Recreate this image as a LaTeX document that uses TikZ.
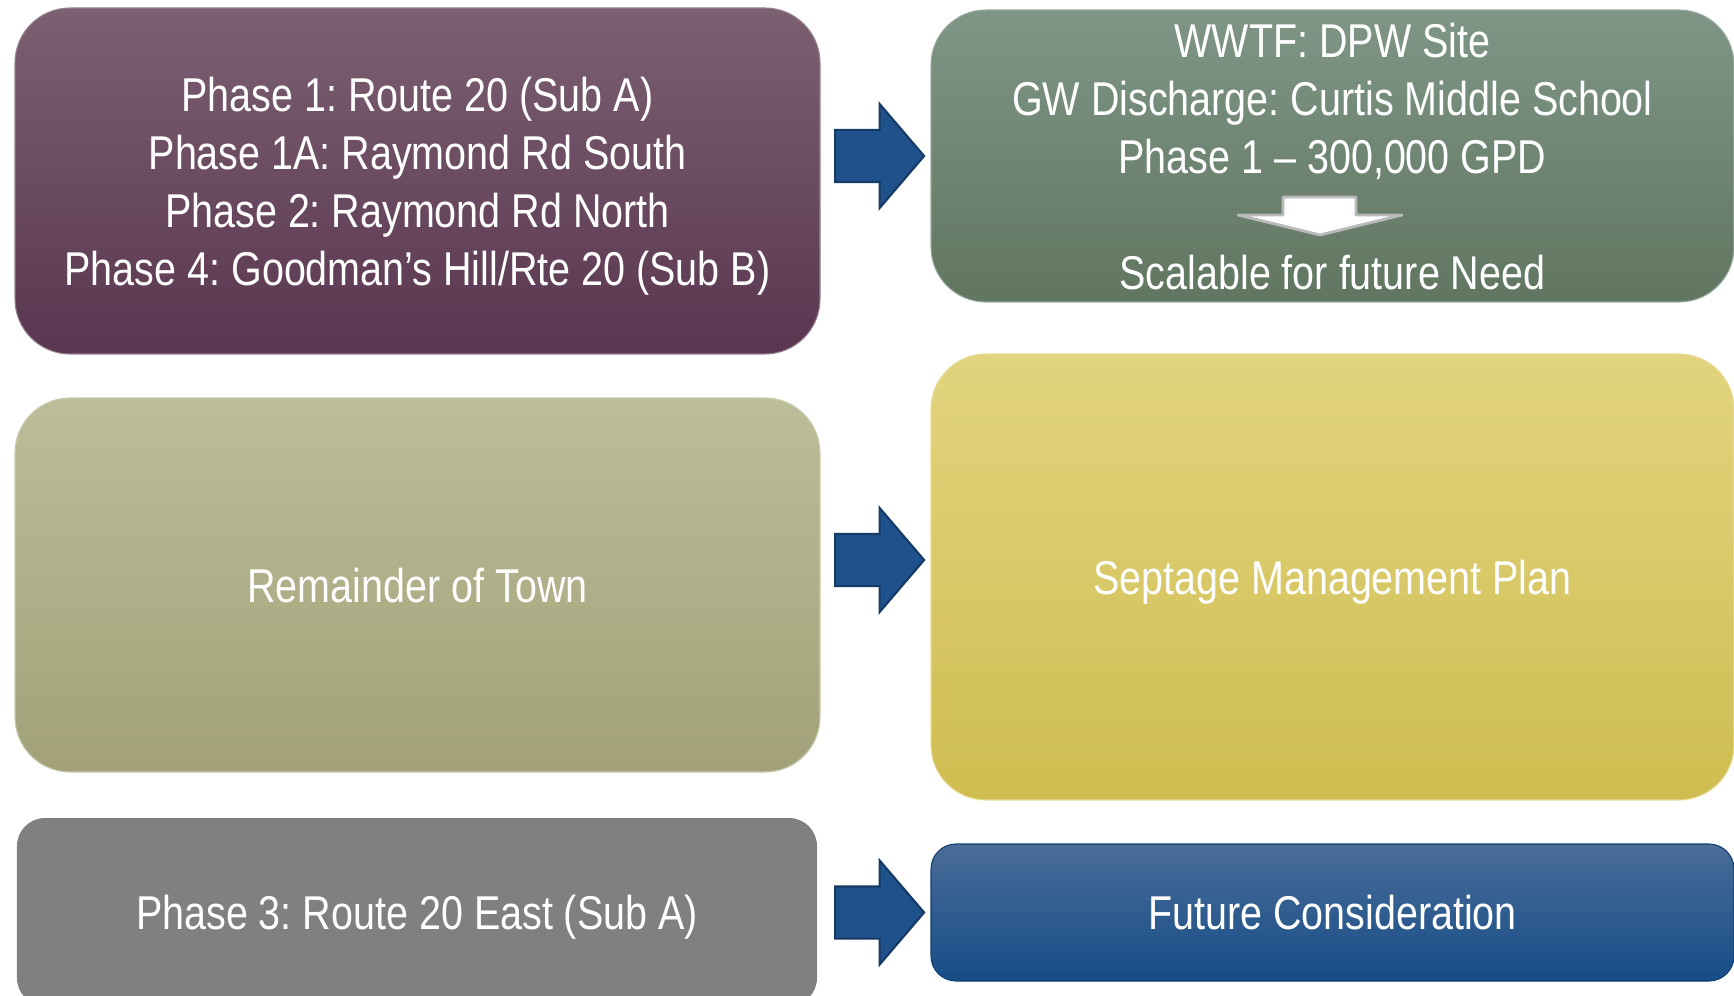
\documentclass[tikz,border=0pt]{standalone}
\usepackage{fontspec}
\setmainfont{Liberation Sans}[FakeStretch=0.832]
\usepackage{xcolor}
\usepackage{tikz}
\usetikzlibrary{shapes.arrows,positioning,calc}
\frenchspacing
\definecolor{plumtop}{RGB}{123,96,113}
\definecolor{plumbot}{RGB}{90,54,80}
\definecolor{sagetop}{RGB}{127,150,135}
\definecolor{sagebot}{RGB}{96,118,96}
\definecolor{olivetop}{RGB}{188,190,153}
\definecolor{olivebot}{RGB}{162,161,121}
\definecolor{mustardtop}{RGB}{226,212,127}
\definecolor{mustardbot}{RGB}{207,189,80}
\definecolor{slategray}{RGB}{128,128,128}
\definecolor{navytop}{RGB}{74,108,152}
\definecolor{navybot}{RGB}{22,77,135}
\definecolor{arrowblue}{RGB}{31,82,138}
\definecolor{arrowedge}{RGB}{22,58,102}

\begin{document}
\begin{tikzpicture}[
    box/.style={rounded corners=0.55cm, text=white, align=center, inner sep=0pt, text depth=0pt,
        font=\fontsize{13.5}{16.5}\selectfont},
    blockarrow/.style={single arrow, fill=arrowblue, draw=arrowedge, line width=0.6pt,
        minimum height=0.89cm, inner xsep=0pt, inner ysep=0.25cm, single arrow head extend=0.26cm,
        single arrow tip angle=99, anchor=tip}
]
    \useasboundingbox (0,0) rectangle (17.34,-9.96);
    \fill[white] (0,0) rectangle (17.34,-9.96);

    % Left column
    \node[box, top color=plumtop, bottom color=plumbot, draw=plumtop!80!white, line width=0.3pt,
        minimum width=8.05cm, minimum height=3.46cm] (phaseA) at (4.175,-1.81)
        {Phase 1: Route 20 (Sub A)\\Phase 1A: Raymond Rd South\\Phase 2: Raymond Rd North\\Phase 4: Goodman’s Hill/Rte 20 (Sub B)};

    \node[box, top color=olivetop, bottom color=olivebot, draw=olivetop!80!white, line width=0.3pt,
        minimum width=8.05cm, minimum height=3.74cm] (remainder) at (4.175,-5.85)
        {Remainder of Town};

    \node[box, rounded corners=0.28cm, fill=slategray,
        minimum width=8.00cm, minimum height=1.88cm] (phaseC) at (4.17,-9.12)
        {Phase 3: Route 20 East (Sub A)};

    % Right column
    \node[box, top color=sagetop, bottom color=sagebot, draw=sagetop!80!white, line width=0.3pt,
        minimum width=8.03cm, minimum height=2.92cm] (wwtf) at (13.325,-1.56)
        {WWTF: DPW Site\\GW Discharge: Curtis Middle School\\Phase 1 – 300,000 GPD\\[16.5pt]Scalable for future Need};

    \node[box, top color=mustardtop, bottom color=mustardbot, draw=mustardtop!80!white, line width=0.3pt,
        minimum width=8.03cm, minimum height=4.46cm] (septage) at (13.325,-5.77)
        {Septage Management Plan};

    \node[box, rounded corners=0.25cm, top color=navytop, bottom color=navybot, draw=navybot!80!black, line width=0.3pt,
        minimum width=8.03cm, minimum height=1.37cm] (future) at (13.325,-9.125)
        {Future Consideration};

    % Scalable arrow
    \draw[fill=white, draw=gray!55, line width=0.8pt, line join=round]
        ($(wwtf.center)+(-0.495,-0.41)$) -- ++(0.73,0) -- ++(0,-0.18) -- ++(0.46,0)
        -- ++(-0.82,-0.20) -- ++(-0.82,0.20) -- ++(0.45,0) -- cycle;

    % Arrows
    \node[blockarrow] (arr1) at ($(wwtf.west)+(-0.05,0)$) {};
    \node[blockarrow] (arr2) at ($(septage.west)+(-0.05,0.17)$) {};
    \node[blockarrow] (arr3) at ($(future.west)+(-0.05,0)$) {};

\end{tikzpicture}
\end{document}
